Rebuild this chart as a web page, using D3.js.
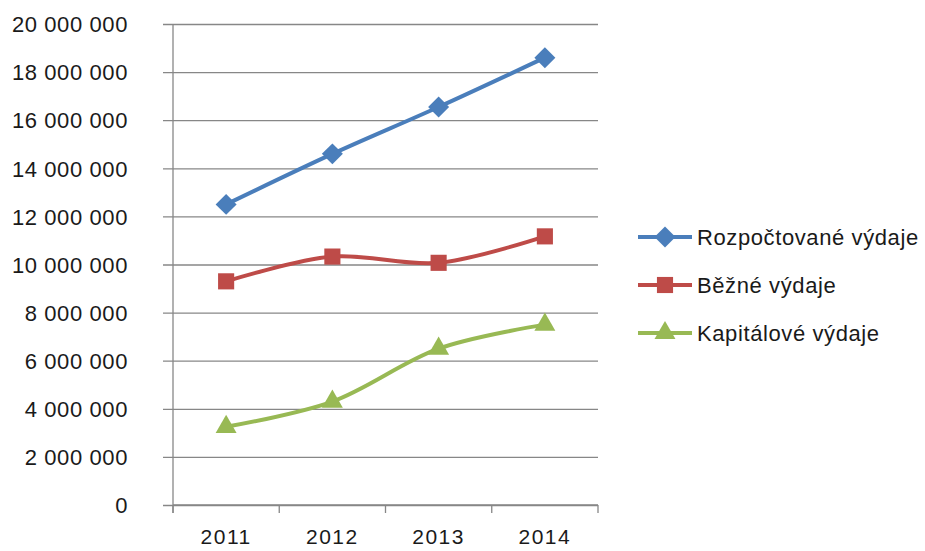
<!DOCTYPE html>
<html>
<head>
<meta charset="utf-8">
<script src="https://cdn.jsdelivr.net/npm/d3@7"></script>
<style>
  html, body { margin: 0; padding: 0; background: #fff; }
  svg text { font-family: "Liberation Sans", Arial, sans-serif; fill: #1a1a1a; }
</style>
</head>
<body>
<svg id="chart" width="925" height="551"></svg>
<script>
// Years on the category axis
const years = ["2011", "2012", "2013", "2014"];

// Series values (CZK)
const rozpoctovane = [12500000, 14600000, 16550000, 18600000];
const bezne        = [9300000, 10330000, 10070000, 11170000];
const kapitalove   = [3250000, 4300000, 6500000, 7500000];

const seriesNames = ["Rozpočtované výdaje", "Běžné výdaje", "Kapitálové výdaje"];
const yTicks = [0, 2000000, 4000000, 6000000, 8000000, 10000000,
                12000000, 14000000, 16000000, 18000000, 20000000];

// Diamond drawn as a square turned by 45 degrees
const diamond = {
  draw(context, size) {
    const r = Math.sqrt(size / 2);
    context.moveTo(0, -r);
    context.lineTo(r, 0);
    context.lineTo(0, r);
    context.lineTo(-r, 0);
    context.closePath();
  }
};

const series = [
  { name: seriesNames[0], values: rozpoctovane, color: "#4A7EBB", marker: diamond,           size: 220 },
  { name: seriesNames[1], values: bezne,        color: "#BE4B48", marker: d3.symbolSquare,   size: 260 },
  { name: seriesNames[2], values: kapitalove,   color: "#98B954", marker: d3.symbolTriangle, size: 190 }
];

const svg = d3.select("#chart");
const plot = { left: 173, right: 598, top: 24, bottom: 505 };

const x = d3.scaleBand().domain(years).range([plot.left, plot.right]);
const y = d3.scaleLinear().domain([0, 20000000]).range([plot.bottom, plot.top]);

const fmt = v => d3.format(",")(v).replace(/,/g, " ");

// Horizontal gridlines with the left tick stubs
const yAxis = d3.axisLeft(y).tickValues(yTicks).tickSize(-(plot.right - plot.left + 10))
  .tickFormat(fmt).tickPadding(35);
const gy = svg.append("g").attr("transform", `translate(${plot.left - 10},0)`).call(yAxis);
gy.select(".domain").remove();
gy.selectAll(".tick line").attr("stroke", "#878787").attr("stroke-width", 1.3);
gy.selectAll(".tick text").attr("font-size", 22).attr("letter-spacing", 0.6).attr("dy", "0.35em");

// Vertical axis line
svg.append("line")
  .attr("x1", plot.left).attr("x2", plot.left)
  .attr("y1", plot.top).attr("y2", plot.bottom + 8)
  .attr("stroke", "#878787").attr("stroke-width", 1.3);

// Category axis with boundary tick marks
svg.append("line")
  .attr("x1", plot.left).attr("x2", plot.right)
  .attr("y1", plot.bottom).attr("y2", plot.bottom)
  .attr("stroke", "#878787").attr("stroke-width", 1.3);
const boundaries = years.map(d => x(d)).concat([x(years[years.length - 1]) + x.bandwidth()]);
svg.selectAll(".xtick").data(boundaries).enter().append("line")
  .attr("x1", d => d).attr("x2", d => d)
  .attr("y1", plot.bottom).attr("y2", plot.bottom + 8)
  .attr("stroke", "#878787").attr("stroke-width", 1.3);
svg.selectAll(".xlabel").data(years).enter().append("text")
  .attr("x", d => x(d) + x.bandwidth() / 2)
  .attr("y", 544)
  .attr("text-anchor", "middle")
  .attr("font-size", 21)
  .attr("letter-spacing", 1.5)
  .text(d => d);

// Smoothed series lines and markers
const line = d3.line()
  .x((d, i) => x(years[i]) + x.bandwidth() / 2)
  .y(d => y(d))
  .curve(d3.curveCatmullRom.alpha(0.5));

series.forEach(s => {
  svg.append("path")
    .attr("d", line(s.values))
    .attr("fill", "none")
    .attr("stroke", s.color)
    .attr("stroke-width", 4)
    .attr("stroke-linejoin", "round")
    .attr("stroke-linecap", "round");
  svg.selectAll(null).data(s.values).enter().append("path")
    .attr("d", d3.symbol().type(s.marker).size(s.size))
    .attr("transform", (d, i) => `translate(${x(years[i]) + x.bandwidth() / 2},${y(d)})`)
    .attr("fill", s.color);
});

// Legend
const legendRows = [237, 285, 333];
series.forEach((s, i) => {
  const g = svg.append("g").attr("transform", `translate(638,${legendRows[i]})`);
  g.append("line").attr("x1", 0).attr("x2", 54).attr("y1", 0).attr("y2", 0)
    .attr("stroke", s.color).attr("stroke-width", 4);
  g.append("path").attr("d", d3.symbol().type(s.marker).size(s.size))
    .attr("transform", "translate(27,0)").attr("fill", s.color);
  g.append("text").attr("x", 59).attr("y", 0).attr("dy", "0.36em")
    .attr("font-size", 22).attr("letter-spacing", 0.6).text(s.name);
});
</script>
</body>
</html>
